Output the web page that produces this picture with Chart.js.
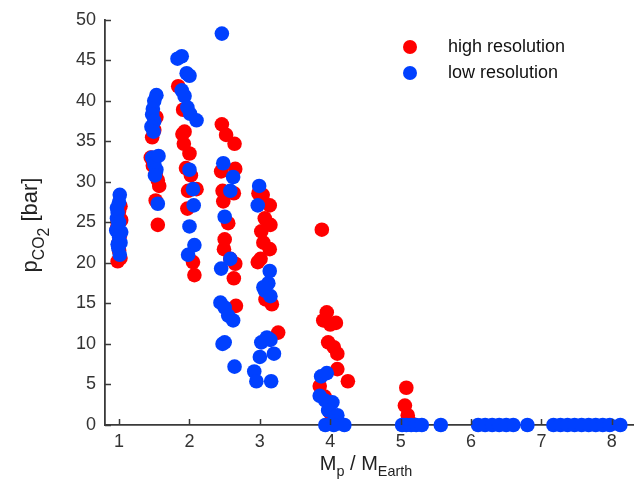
<!DOCTYPE html>
<html>
<head>
<meta charset="utf-8">
<script src="https://cdn.jsdelivr.net/npm/chart.js@4.4.1/dist/chart.umd.min.js"></script>
<style>
  html, body { margin: 0; padding: 0; background: #fff; }
  #wrap { width: 642px; height: 499px; }
</style>
</head>
<body>
<div id="wrap"><canvas id="chart"></canvas></div>
<script>
// simulation runs: planet mass (Earth masses) vs. surface CO2 pressure (bar)
const highRes = [
  [0.98, 20.2], [1.02, 20.6], [1.0, 21.5], [0.99, 22.4], [1.01, 23.3], [0.97, 24.3], [1.03, 25.3], [1.0, 26.4], [1.02, 27.0], [0.98, 25.0],
  [1.53, 38.0], [1.47, 35.5], [1.5, 36.4], [1.45, 33.0], [1.48, 32.0], [1.52, 31.0], [1.55, 30.2], [1.57, 29.5], [1.52, 27.7], [1.55, 24.7],
  [1.84, 41.8], [1.91, 38.9], [1.93, 36.2], [1.9, 35.9], [1.92, 34.7], [2.0, 33.5], [1.95, 31.7], [2.02, 30.8], [1.98, 28.9], [2.1, 29.1], [1.97, 26.7], [2.05, 20.1], [2.07, 18.5],
  [2.46, 37.1], [2.52, 35.8], [2.64, 34.7], [2.45, 31.3], [2.65, 31.6], [2.47, 28.9], [2.63, 28.6], [2.48, 27.6], [2.55, 24.9], [2.5, 22.9], [2.49, 21.7], [2.65, 19.9], [2.63, 18.1], [2.66, 14.7], [2.58, 20.5],
  [2.98, 28.6], [3.04, 28.4], [3.14, 27.1], [3.07, 25.5], [3.15, 24.7], [3.02, 23.9], [3.14, 21.7], [3.01, 20.5], [2.97, 20.1], [3.17, 14.9], [3.08, 15.5], [3.26, 11.4], [3.05, 22.5],
  [3.88, 24.1], [3.95, 13.9], [3.9, 12.9], [4.0, 12.4], [4.08, 12.6], [3.97, 10.2], [4.05, 9.6], [4.1, 8.8], [4.1, 6.9], [4.25, 5.4], [3.85, 4.8], [3.92, 3.5], [4.0, 1.5],
  [5.08, 4.6], [5.06, 2.4], [5.1, 1.2], [5.12, 0.5]
];
const lowRes = [
  [1.01, 28.4], [1.0, 27.5], [0.98, 26.2], [0.97, 25.5], [0.99, 24.8], [0.96, 24.0], [1.0, 23.2], [1.02, 22.5], [0.99, 21.8], [1.01, 21.0], [0.98, 22.3], [1.03, 23.8], [1.0, 25.0], [0.97, 26.8],
  [1.53, 40.7], [1.5, 40.0], [1.48, 39.0], [1.47, 38.3], [1.5, 37.5], [1.46, 36.8], [1.49, 36.2], [1.47, 33.0], [1.5, 32.2], [1.56, 33.2], [1.53, 31.5], [1.51, 30.8], [1.55, 27.3],
  [1.89, 45.5], [1.83, 45.2], [1.96, 43.4], [2.0, 43.1], [1.89, 41.3], [1.93, 40.6], [1.97, 39.2], [2.01, 38.4], [2.1, 37.6], [2.0, 31.5], [2.05, 29.1], [2.06, 27.1], [2.0, 24.5], [2.07, 22.2], [1.98, 21.0],
  [2.46, 48.3],
  [2.48, 32.3], [2.62, 30.6], [2.58, 28.9], [2.5, 25.7], [2.58, 20.5], [2.45, 19.3], [2.44, 15.1], [2.5, 14.5], [2.55, 13.5], [2.62, 12.9], [2.5, 10.2], [2.47, 10.0], [2.64, 7.2],
  [2.99, 29.5], [2.97, 27.1], [3.14, 19.0], [3.12, 17.5], [3.07, 16.6], [3.15, 15.9], [3.05, 17.0], [3.1, 10.8], [3.02, 10.2], [3.0, 8.4], [3.2, 8.8], [2.92, 6.6], [2.95, 5.4], [3.16, 5.4], [3.15, 10.5],
  [3.87, 6.0], [3.95, 6.4], [3.85, 3.6], [3.93, 3.0], [4.03, 2.8], [3.97, 1.8], [4.1, 1.2], [4.05, 0.4], [3.93, 0], [4.05, 0], [4.2, 0],
  [5.02, 0], [5.08, 0], [5.15, 0], [5.22, 0], [5.3, 0], [5.57, 0],
  [6.1, 0], [6.2, 0], [6.3, 0], [6.4, 0], [6.5, 0], [6.6, 0], [6.8, 0],
  [7.17, 0], [7.27, 0], [7.37, 0], [7.47, 0], [7.57, 0], [7.67, 0], [7.77, 0], [7.87, 0], [7.97, 0], [8.12, 0]
];
const xTicks = [1, 2, 3, 4, 5, 6, 7, 8];
const yTicks = [0, 5, 10, 15, 20, 25, 30, 35, 40, 45, 50];
const seriesLabels = ['high resolution', 'low resolution'];
const seriesColors = ['#ff0000', '#0040ff'];

const FONT = '"Liberation Sans", Arial, sans-serif';
const AXIS = '#3a3a3a';

const toPoints = arr => arr.map(([x, y]) => ({ x, y }));

// text runs with sub/sub-sub scripts, drawn left to right from (x, y)
function runsWidth(ctx, runs, size) {
  let w = 0;
  runs.forEach(r => {
    ctx.font = `${r.sub ? size * 0.72 : size}px ${FONT}`;
    w += ctx.measureText(r.t).width;
  });
  return w;
}
function drawRuns(ctx, runs, x, y, size) {
  runs.forEach(r => {
    const s = r.sub ? size * 0.72 : size;
    ctx.font = `${s}px ${FONT}`;
    const dy = r.sub === 2 ? size * 0.55 : r.sub ? size * 0.3 : 0;
    ctx.fillText(r.t, x, y + dy);
    x += ctx.measureText(r.t).width;
  });
}

const axisDecor = {
  id: 'axisDecor',
  afterDraw(chart) {
    const { ctx, chartArea: a, scales: { x, y } } = chart;
    ctx.save();
    // inward tick marks
    ctx.strokeStyle = AXIS;
    ctx.lineWidth = 1.5;
    ctx.beginPath();
    xTicks.forEach(v => {
      const px = Math.round(x.getPixelForValue(v)) + 0.5;
      ctx.moveTo(px, a.bottom);
      ctx.lineTo(px, a.bottom - 6);
    });
    yTicks.forEach(v => {
      const py = Math.round(y.getPixelForValue(v)) + 0.5;
      ctx.moveTo(a.left, py);
      ctx.lineTo(a.left + 6, py);
    });
    ctx.stroke();

    // axis titles
    ctx.fillStyle = '#222';
    ctx.textBaseline = 'alphabetic';
    const xRuns = [{ t: 'M' }, { t: 'p', sub: 1 }, { t: ' / M' }, { t: 'Earth', sub: 1 }];
    const xw = runsWidth(ctx, xRuns, 20);
    drawRuns(ctx, xRuns, 366 - xw / 2, 470, 20);

    const yRuns = [{ t: 'p' }, { t: 'CO', sub: 1 }, { t: '2', sub: 2 }, { t: ' [bar]' }];
    const yw = runsWidth(ctx, yRuns, 22);
    ctx.translate(37, 225);
    ctx.rotate(-Math.PI / 2);
    drawRuns(ctx, yRuns, -yw / 2, 0, 22);
    ctx.restore();

    // legend
    ctx.save();
    ctx.font = `18px ${FONT}`;
    ctx.textBaseline = 'middle';
    seriesLabels.forEach((label, i) => {
      const cy = 47 + i * 26;
      ctx.fillStyle = seriesColors[i];
      ctx.beginPath();
      ctx.arc(410, cy, 7, 0, Math.PI * 2);
      ctx.fill();
      ctx.fillStyle = '#111';
      ctx.fillText(label, 448, cy);
    });
    ctx.restore();
  }
};

new Chart(document.getElementById('chart'), {
  type: 'scatter',
  data: {
    datasets: [
      {
        label: seriesLabels[0],
        data: toPoints(highRes),
        backgroundColor: seriesColors[0],
        borderWidth: 0,
        pointRadius: 7.3,
        clip: false,
        order: 1
      },
      {
        label: seriesLabels[1],
        data: toPoints(lowRes),
        backgroundColor: seriesColors[1],
        borderWidth: 0,
        pointRadius: 7.3,
        clip: false,
        order: 0
      }
    ]
  },
  options: {
    responsive: true,
    maintainAspectRatio: false,
    animation: false,
    layout: { padding: { top: 10, right: 9, left: 0, bottom: 0 } },
    plugins: {
      legend: { display: false },
      tooltip: { enabled: false }
    },
    scales: {
      x: {
        type: 'linear',
        min: 0.8,
        max: 8.3,
        afterBuildTicks: s => { s.ticks = xTicks.map(value => ({ value })); },
        afterFit: s => { s.height = 74; },
        grid: { display: false, drawTicks: false },
        border: { display: true, color: AXIS, width: 1.8 },
        ticks: { color: '#333', font: { family: FONT, size: 18 }, padding: 6, maxRotation: 0 }
      },
      y: {
        type: 'linear',
        min: 0,
        max: 50,
        afterBuildTicks: s => { s.ticks = yTicks.map(value => ({ value })); },
        afterFit: s => { s.width = 105; },
        grid: { display: false, drawTicks: false },
        border: { display: true, color: AXIS, width: 1.8 },
        ticks: { color: '#333', font: { family: FONT, size: 18 }, padding: 9 }
      }
    }
  },
  plugins: [axisDecor]
});
</script>
</body>
</html>
